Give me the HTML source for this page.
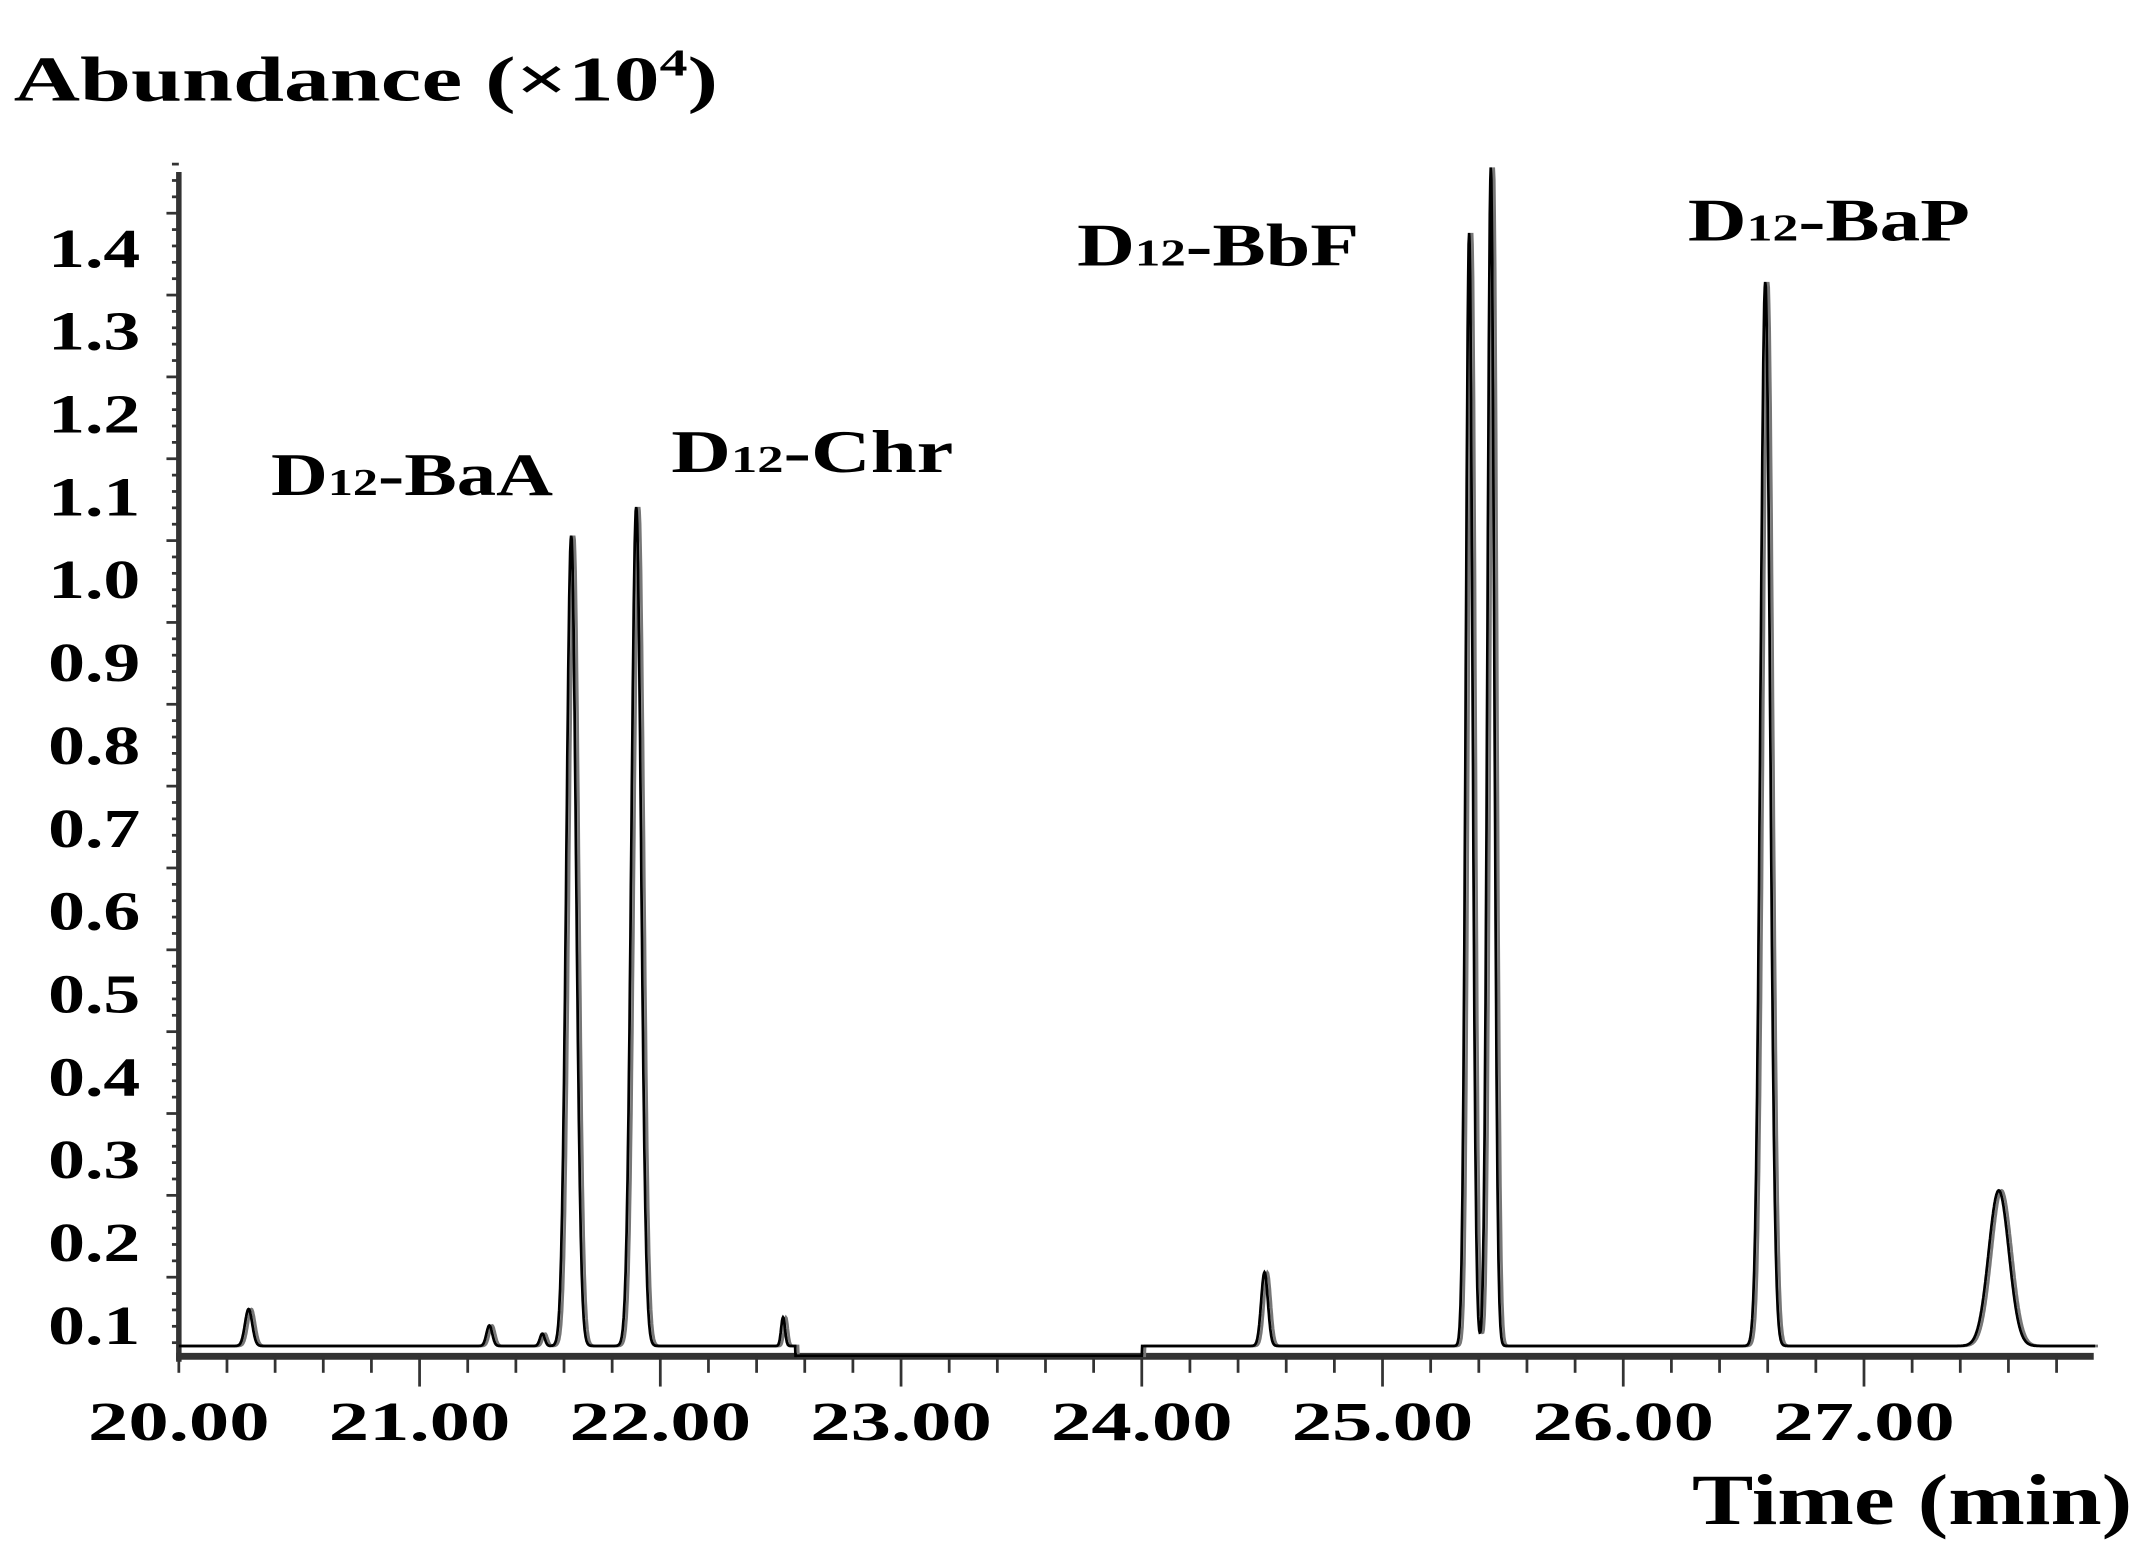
<!DOCTYPE html>
<html><head><meta charset="utf-8"><style>
html,body{margin:0;padding:0;background:#fff}
svg{display:block}
text{font-family:"Liberation Serif",serif;font-weight:bold;fill:#000}
</style></head><body>
<svg id="chart" width="2146" height="1564" viewBox="0 0 1560 1137" preserveAspectRatio="none" xmlns="http://www.w3.org/2000/svg">
<text x="10" y="73" font-size="46" textLength="512" lengthAdjust="spacingAndGlyphs">Abundance (×10<tspan font-size="28" dy="-18">4</tspan><tspan dy="18">)</tspan></text>
<text x="1230" y="1108" font-size="52" textLength="320" lengthAdjust="spacingAndGlyphs">Time (min)</text>
<g id="axes"></g>
<g id="traces"></g>
<g id="labels"></g>
</svg>
<script>
const xTicks=[20,21,22,23,24,25,26,27];
const xTickLabels=["20.00","21.00","22.00","23.00","24.00","25.00","26.00","27.00"];
const yTicks=[0.1,0.2,0.3,0.4,0.5,0.6,0.7,0.8,0.9,1.0,1.1,1.2,1.3,1.4];
const yTickLabels=["0.1","0.2","0.3","0.4","0.5","0.6","0.7","0.8","0.9","1.0","1.1","1.2","1.3","1.4"];
const peakTimes=[20.29,21.29,21.51,21.63,21.90,22.51,24.51,25.36,25.45,26.59,27.56];
const peakHeights=[0.045,0.025,0.015,0.99,1.025,0.035,0.09,1.36,1.44,1.30,0.19];
const peakWidths=[0.015,0.012,0.01,0.02,0.02,0.008,0.014,0.014,0.014,0.02,0.042];
const compoundNames=["BaA","Chr","BbF","BaP"];
const compoundLabelPos=[[197,360],[488,343],[783,193],[1227,175]];
const baseline=0.016;
const ns="http://www.w3.org/2000/svg";
const X=t=>130+(t-20)*175;
const Y=v=>988-v*595;
function mk(tag,attrs,parent){const e=document.createElementNS(ns,tag);for(const k in attrs)e.setAttribute(k,attrs[k]);parent.appendChild(e);return e;}
const axes=document.getElementById('axes');
let a=mk('line',{x1:130,y1:125,x2:130,y2:990,stroke:'#333','stroke-width':4},axes);

a=mk('line',{x1:128,y1:986,x2:1522,y2:986,stroke:'#333','stroke-width':5},axes);

for(let v=0.02;v<1.47;v+=0.02){const major=Math.abs(v*10-Math.round(v*10))<0.01;
 const l=mk('line',{x1:130-(major?9:5),y1:Y(v),x2:130,y2:Y(v),stroke:'#333','stroke-width':2},axes);
 }
for(let t=20;t<27.97;t+=0.2){const major=Math.abs(t-Math.round(t))<0.01;
 const l=mk('line',{x1:X(t),y1:986,x2:X(t),y2:986+(major&&t>20.5?22:12),stroke:'#333','stroke-width':2},axes);
 }
xTicks.forEach((t,i)=>{const e=mk('text',{x:X(t),y:1047,'font-size':40,'text-anchor':'middle',textLength:132,lengthAdjust:'spacingAndGlyphs'},axes);e.textContent=xTickLabels[i];
 });
yTicks.forEach((v,i)=>{const ly=182+(1.4-v)/1.3*(965-182)+12;const e=mk('text',{x:35,y:ly,'font-size':40,textLength:67,lengthAdjust:'spacingAndGlyphs'},axes);e.textContent=yTickLabels[i];
 });
function val(t){let v=baseline;peakTimes.forEach((p,i)=>{v+=peakHeights[i]*Math.exp(-0.5*Math.pow((t-p)/peakWidths[i],2));});return v;}
const tr=document.getElementById('traces');
function trace(off,col,w,name){let d='';let first=true;
 for(let t=20;t<=27.96;t+=0.002){let v=val(t);if(t>22.56&&t<24.0)v=0.004;
  d+=(first?'M':'L')+X(t+off).toFixed(1)+','+Y(v).toFixed(1);first=false;}
 const p=mk('path',{d:d,fill:'none',stroke:col,'stroke-width':w},tr);
 }
trace(0.012,'#777',2,'trace-2');
trace(0,'#000',2,'trace-1');
const lb=document.getElementById('labels');
compoundNames.forEach((n,i)=>{const [x,y]=compoundLabelPos[i];
 const e=mk('text',{x:x,y:y,'font-size':44,textLength:205,lengthAdjust:'spacingAndGlyphs'},lb);
 e.innerHTML='D<tspan font-size="28">12</tspan>-'+n;
 });
</script>
</body></html>
